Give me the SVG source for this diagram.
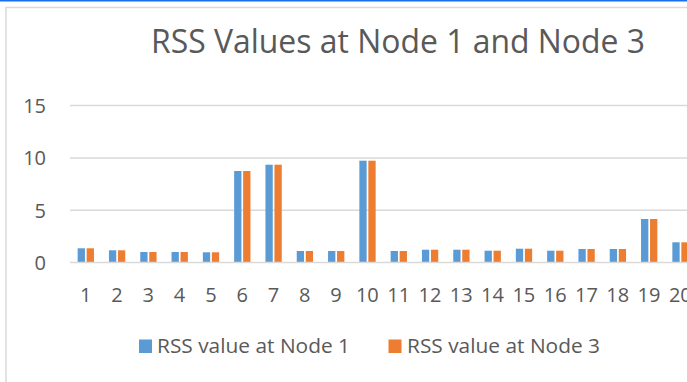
<svg xmlns="http://www.w3.org/2000/svg" width="687" height="382" viewBox="0 0 687 382">
<style>
.t{font-family:"Open Sans","Noto Sans","Liberation Sans",sans-serif;fill:#595959}
.ax{font-size:20px}
.yl{text-anchor:end}
.xl{text-anchor:middle}
.grid{stroke:#d9d9d9;stroke-width:1.5;fill:none}
.b1{fill:#5b9bd5}
.b3{fill:#ed7d31}
</style>
<rect width="687" height="382" fill="#ffffff"/>
<rect x="0" y="0" width="687" height="1.5" fill="#1a6ef0"/>
<rect x="6" y="7.5" width="700" height="400" fill="#ffffff" stroke="#d9d9d9" stroke-width="1.5"/>
<g id="title"><text class="t" x="151" y="53" font-size="33" textLength="494" lengthAdjust="spacingAndGlyphs">RSS Values at Node 1 and Node 3</text></g>
<g id="gridlines">
<line class="grid" x1="70" y1="105.6" x2="687" y2="105.6"/>
<line class="grid" x1="70" y1="157.9" x2="687" y2="157.9"/>
<line class="grid" x1="70" y1="210.2" x2="687" y2="210.2"/>
</g>
<g id="y-axis" class="t ax yl">
<text x="46" y="113">15</text>
<text x="46" y="165.3">10</text>
<text x="46" y="217.6">5</text>
<text x="46" y="269.9">0</text>
</g>
<g id="series-node1" class="b1">
<rect x="77.65" y="248.3" width="7.3" height="14.2"/>
<rect x="108.95" y="250.3" width="7.3" height="12.2"/>
<rect x="140.25" y="252" width="7.3" height="10.5"/>
<rect x="171.55" y="252" width="7.3" height="10.5"/>
<rect x="202.85" y="252.3" width="7.3" height="10.2"/>
<rect x="234.15" y="171" width="7.3" height="91.5"/>
<rect x="265.45" y="164.7" width="7.3" height="97.8"/>
<rect x="296.75" y="251" width="7.3" height="11.5"/>
<rect x="328.05" y="251" width="7.3" height="11.5"/>
<rect x="359.35" y="160.7" width="7.3" height="101.8"/>
<rect x="390.65" y="251" width="7.3" height="11.5"/>
<rect x="421.95" y="249.7" width="7.3" height="12.8"/>
<rect x="453.25" y="249.7" width="7.3" height="12.8"/>
<rect x="484.55" y="250.7" width="7.3" height="11.8"/>
<rect x="515.85" y="248.7" width="7.3" height="13.8"/>
<rect x="547.15" y="250.7" width="7.3" height="11.8"/>
<rect x="578.45" y="249" width="7.3" height="13.5"/>
<rect x="609.75" y="249" width="7.3" height="13.5"/>
<rect x="641.05" y="219" width="7.3" height="43.5"/>
<rect x="672.35" y="242.3" width="7.3" height="20.2"/>
</g>
<g id="series-node3" class="b3">
<rect x="86.65" y="248.3" width="7.3" height="14.2"/>
<rect x="117.95" y="250.3" width="7.3" height="12.2"/>
<rect x="149.25" y="252" width="7.3" height="10.5"/>
<rect x="180.55" y="252" width="7.3" height="10.5"/>
<rect x="211.85" y="252.3" width="7.3" height="10.2"/>
<rect x="243.15" y="171" width="7.3" height="91.5"/>
<rect x="274.45" y="164.7" width="7.3" height="97.8"/>
<rect x="305.75" y="251" width="7.3" height="11.5"/>
<rect x="337.05" y="251" width="7.3" height="11.5"/>
<rect x="368.35" y="160.7" width="7.3" height="101.8"/>
<rect x="399.65" y="251" width="7.3" height="11.5"/>
<rect x="430.95" y="249.7" width="7.3" height="12.8"/>
<rect x="462.25" y="249.7" width="7.3" height="12.8"/>
<rect x="493.55" y="250.7" width="7.3" height="11.8"/>
<rect x="524.85" y="248.7" width="7.3" height="13.8"/>
<rect x="556.15" y="250.7" width="7.3" height="11.8"/>
<rect x="587.45" y="249" width="7.3" height="13.5"/>
<rect x="618.75" y="249" width="7.3" height="13.5"/>
<rect x="650.05" y="219" width="7.3" height="43.5"/>
<rect x="681.35" y="242.3" width="7.3" height="20.2"/>
</g>
<g id="x-axis">
<line class="grid" x1="70" y1="262.5" x2="687" y2="262.5"/>
<g class="t ax xl">
<text x="85.65" y="302">1</text>
<text x="116.95" y="302">2</text>
<text x="148.25" y="302">3</text>
<text x="179.55" y="302">4</text>
<text x="210.85" y="302">5</text>
<text x="242.15" y="302">6</text>
<text x="273.45" y="302">7</text>
<text x="304.75" y="302">8</text>
<text x="336.05" y="302">9</text>
<text x="367.35" y="302">10</text>
<text x="398.65" y="302">11</text>
<text x="429.95" y="302">12</text>
<text x="461.25" y="302">13</text>
<text x="492.55" y="302">14</text>
<text x="523.85" y="302">15</text>
<text x="555.15" y="302">16</text>
<text x="586.45" y="302">17</text>
<text x="617.75" y="302">18</text>
<text x="649.05" y="302">19</text>
<text x="680.35" y="302">20</text>
</g>
</g>
<g id="legend-node1">
<rect class="b1" x="139" y="339.5" width="13" height="13.5"/>
<text class="t" x="157" y="353" font-size="20.5" textLength="193" lengthAdjust="spacingAndGlyphs">RSS value at Node 1</text>
</g>
<g id="legend-node3">
<rect class="b3" x="388.5" y="339.5" width="13" height="13.5"/>
<text class="t" x="407" y="353" font-size="20.5" textLength="193" lengthAdjust="spacingAndGlyphs">RSS value at Node 3</text>
</g>
</svg>
